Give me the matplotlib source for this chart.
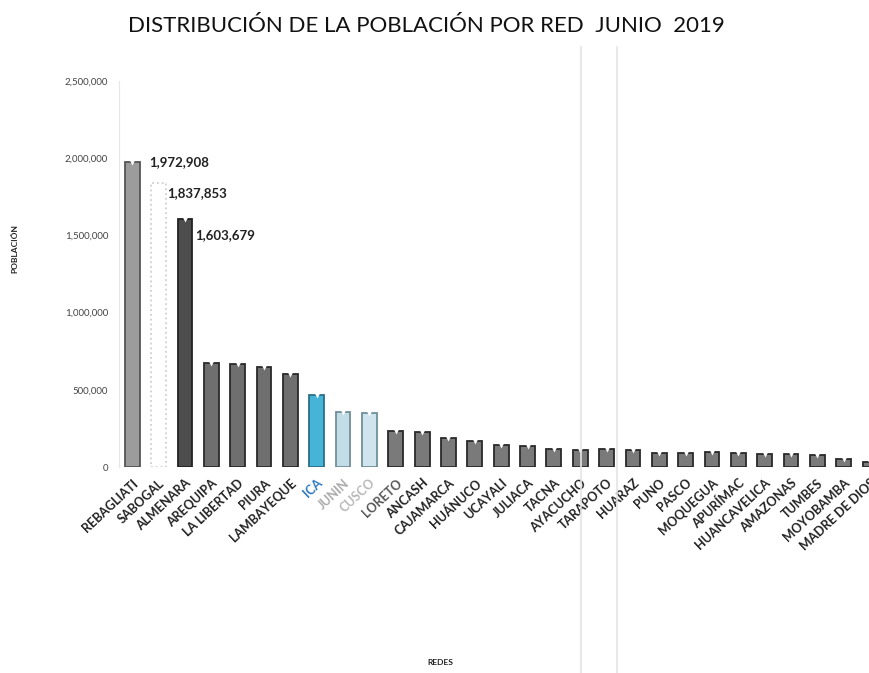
import matplotlib
matplotlib.use("Agg")
import matplotlib.pyplot as plt
from matplotlib.ticker import FuncFormatter
from matplotlib.lines import Line2D

plt.rcParams['font.family'] = ['Lato', 'DejaVu Sans']

# poblacion asignada por red asistencial, junio 2019
redes = ["REBAGLIATI", "SABOGAL", "ALMENARA", "AREQUIPA", "LA LIBERTAD", "PIURA",
         "LAMBAYEQUE", "ICA", "JUNIN", "CUSCO", "LORETO", "ANCASH", "CAJAMARCA",
         "HUÁNUCO", "UCAYALI", "JULIACA", "TACNA", "AYACUCHO", "TARAPOTO", "HUARAZ",
         "PUNO", "PASCO", "MOQUEGUA", "APURÍMAC", "HUANCAVELICA", "AMAZONAS",
         "TUMBES", "MOYOBAMBA", "MADRE DE DIOS"]
poblacion = [1972908, 1837853, 1603679, 672000, 670000, 650000,
             602000, 466000, 358000, 353000, 233000, 225000, 186000,
             168000, 142000, 138000, 120000, 112000, 115000, 110000,
             93000, 92000, 96000, 88000, 85000, 82000,
             78000, 52000, 35000]
etiquetas = ["1,972,908", "1,837,853", "1,603,679"]

gris = "#7a7a7a"
colores = ["#9c9c9c", "#ffffff", "#4d4d4d"] + ["#6f6f6f"] * 4 + \
          ["#46b4d6", "#c2dde6", "#cfe4ec"] + [gris] * 19
bordes = ["#555555", "#cfcfcf", "#222222"] + ["#2a2a2a"] * 4 + \
         ["#2a6f88", "#6f8f99", "#6f8f99"] + ["#2a2a2a"] * 19
color_txt = ["#222222"] * 7 + ["#2f79c4", "#aaaaaa", "#b8b8b8", "#555555"] + ["#222222"] * 18

fig = plt.figure(figsize=(8.7, 6.73), dpi=100)
ax = fig.add_axes([0.137, 0.306, 0.863, 0.5736])

x = list(range(len(redes)))
barras = ax.bar(x, poblacion, width=0.56, color=colores, edgecolor=bordes,
                linewidth=1.3, zorder=2)
barras[1].set_linestyle(":")

# hendidura clara en la parte superior de cada cilindro
for i, v in enumerate(poblacion):
    if i == 1:
        continue
    ax.plot(i, v, marker="v", markersize=5, color="white",
            markeredgecolor="none", zorder=3)

# etiquetas de valor de las tres redes mayores
ax.text(0.62, poblacion[0], etiquetas[0], fontsize=9.5, fontweight="bold",
        ha="left", va="center", color="#222222")
ax.text(1.32, poblacion[1] * 0.985, etiquetas[1], fontsize=9.5, fontweight="bold",
        ha="left", va="top", color="#222222")
ax.text(2.38, poblacion[2] * 0.96, etiquetas[2], fontsize=9.5, fontweight="bold",
        ha="left", va="top", color="#222222")

ax.set_xlim(-0.5, 27.05)
ax.set_ylim(0, 2500000)
ax.set_yticks([0, 500000, 1000000, 1500000, 2000000, 2500000])
ax.yaxis.set_major_formatter(FuncFormatter(lambda v, p: f"{int(v):,}"))
ax.tick_params(axis="y", length=0, labelsize=7, labelcolor="#444444", pad=8)
ax.tick_params(axis="x", length=0, pad=7)

ax.set_xticks(x)
ax.set_xticklabels(redes, rotation=43, ha="right", rotation_mode="anchor",
                   fontsize=9, fontweight="bold")
for lbl, c in zip(ax.get_xticklabels(), color_txt):
    lbl.set_color(c)

for s in ["top", "right", "bottom"]:
    ax.spines[s].set_visible(False)
ax.spines["left"].set_color("#e6e6e6")
ax.spines["left"].set_linewidth(0.8)

fig.text(0.49, 0.962, "DISTRIBUCIÓN DE LA POBLACIÓN POR RED  JUNIO  2019",
         ha="center", va="center", fontsize=16, color="#111111")
fig.text(0.017, 0.63, "POBLACIÓN", rotation=90, ha="center", va="center",
         fontsize=6, fontweight="bold", color="#222222")
fig.text(0.506, 0.015, "REDES", ha="center", va="center",
         fontsize=6, fontweight="bold", color="#222222")

# lineas verticales tenues del escaneo
for xf in [0.668, 0.709]:
    fig.add_artist(Line2D([xf, xf], [0.0, 0.93], transform=fig.transFigure,
                          color="#e4e4e4", linewidth=1.2))

fig.savefig("out.png", dpi=100)
